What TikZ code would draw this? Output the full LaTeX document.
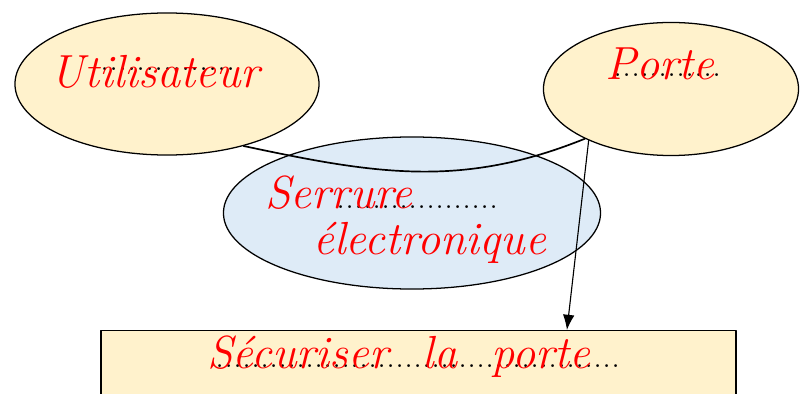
\documentclass[tikz,border=0pt]{standalone}
\usetikzlibrary{shapes.geometric,arrows.meta}
\definecolor{vangnhat}{HTML}{FFF2CC}
\definecolor{xanhnhat}{HTML}{DEEBF7}
\newcommand{\hangcham}[1]{\hbox to #1{\leaders\hbox to 6.4pt{\hss.\hss}\hfill}}
\begin{document}
\begin{tikzpicture}[x=0.025cm,y=-0.025cm,
				line join = round,line cap = round,>={Latex[length=3.8mm,width=2.9mm]},
				elvang/.style={ellipse,draw = black,line width=0.9pt,fill = vangnhat},
				elxanh/.style={ellipse,draw = black,line width=0.9pt,fill = xanhnhat},
				hopvang/.style={rectangle,draw = black,line width=0.9pt,fill = vangnhat},
				chudo/.style={text = red,inner sep=0pt,anchor=base west,font=\fontsize{33}{36}\selectfont\itshape},
				cham/.style={inner sep=0pt,anchor=base west,font=\fontsize{14}{16}\selectfont\bfseries}]
				\useasboundingbox (0,0) rectangle (805,394);
				\node at (167,84) (nodeU) [elvang, minimum width=7.6cm, minimum height=3.55cm] {};
				\node at (671,89) (nodeP) [elvang, minimum width=6.375cm, minimum height=3.325cm] {};
				\node at (412,213) (nodeS) [elxanh, minimum width=9.425cm, minimum height=3.8cm] {};
				\draw[line width=1.2pt] (nodeU.-39) to[out=-12,in=202] (nodeP.-150);
				\node at (418.5,330) (nodeB) [hopvang, anchor=north, minimum width=15.875cm, minimum height=3cm] {};
				\coordinate (tipB) at ([xshift=3.71cm]nodeB.north);
				\draw[->,line width=0.8pt] (nodeP.-148) -- (tipB);
				% lignes pointillees
				\node at (100,71) (chamU) [cham] {\hangcham{3.45cm}};
				\node at (613,77) (chamP) [cham] {\hangcham{2.9cm}};
				\node at (336,208) (chamS) [cham] {\hangcham{4.2cm}};
				\node at (215,367) (chamB) [cham] {\hangcham{10.2cm}};
				% reponses
				\node at (50,88) (txtU) [chudo] {Utilisateur};
				\node at (605,80) (txtP) [chudo] {Porte};
				\node at (265,208) (txtS1) [chudo] {Serrure};
				\node at (313,255) (txtS2) [chudo] {électronique};
				\node at (207,368) (txtB) [chudo] {Sécuriser\hspace{0.45cm} la\hspace{0.45cm} porte};
			\end{tikzpicture}
\end{document}
